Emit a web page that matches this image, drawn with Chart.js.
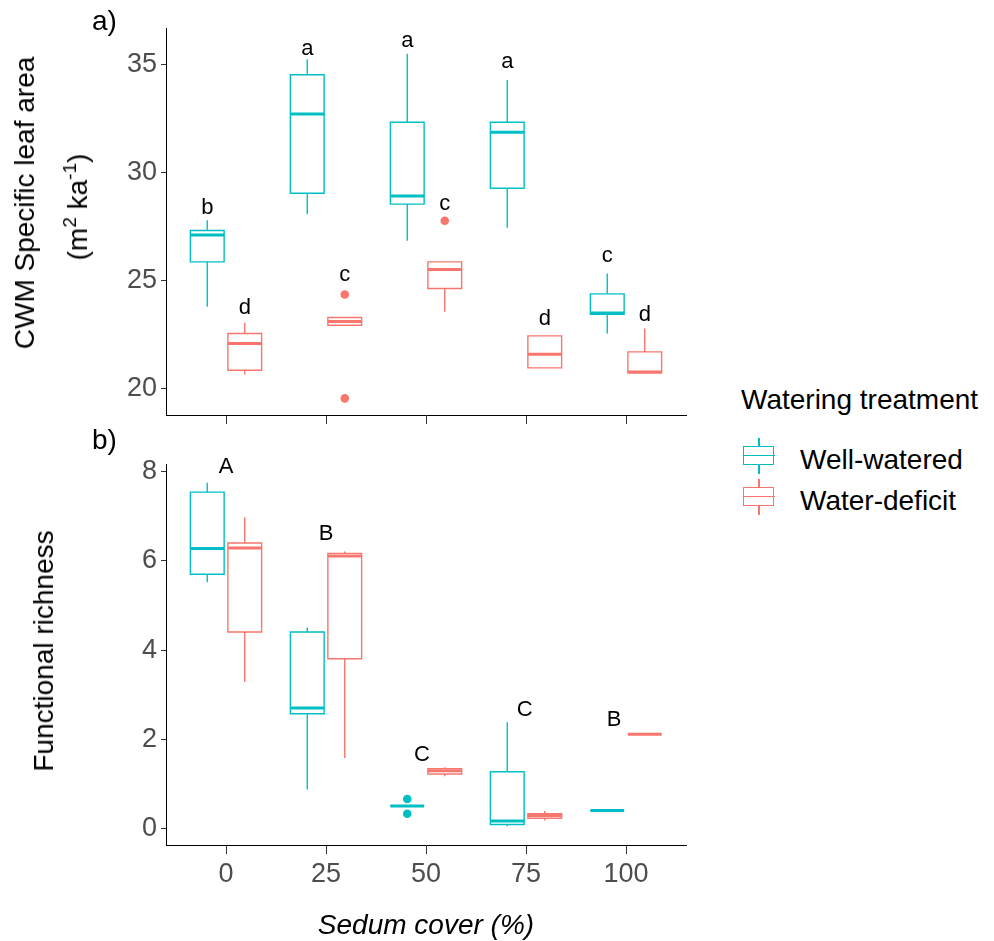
<!DOCTYPE html>
<html>
<head>
<meta charset="utf-8">
<script src="https://cdn.jsdelivr.net/npm/chart.js@4.4.1/dist/chart.umd.min.js"></script>
<style>
  html, body { margin: 0; padding: 0; background: #fff; }
  body { width: 994px; height: 941px; position: relative; overflow: hidden;
         font-family: "Liberation Sans", Arial, sans-serif; color: #000; }
  canvas { position: absolute; left: 0; }
  #slaChart { top: 0; }
  #fricChart { top: 420px; }
  .txt { position: absolute; font-size: 28px; line-height: 28px; white-space: nowrap; }
  .ytitle { position: absolute; font-size: 28px; line-height: 28px; white-space: nowrap;
            transform: translate(-50%, -50%) rotate(-90deg); }
  .ytitle sup { font-size: 0.68em; line-height: 0; vertical-align: 0.6em; }
  .key { position: absolute; width: 32px; height: 36px; }
  .key .wh { position: absolute; left: 15.3px; top: 0; width: 1.4px; height: 36px; }
  .key .bx { position: absolute; left: 0; top: 8px; width: 29.2px; height: 17.2px; background: #fff;
             border-style: solid; border-width: 1.4px; }
  .key .md { position: absolute; left: 0; top: 17.3px; width: 32px; height: 1.4px; }
</style>
</head>
<body>
<canvas id="slaChart" width="700" height="440"></canvas>
<canvas id="fricChart" width="700" height="521"></canvas>

<div class="txt" style="left:92px; top:7px;">a)</div>
<div class="txt" style="left:92px; top:426px;">b)</div>

<div class="ytitle" style="left:25px; top:203px;">CWM Specific leaf area</div>
<div class="ytitle" style="left:78px; top:207px;">(m<sup>2</sup> ka<sup>-1</sup>)</div>
<div class="ytitle" style="left:44px; top:651px;">Functional richness</div>

<div class="txt" style="left:741px; top:386px;">Watering treatment</div>
<div id="legend"></div>

<script>
// ======== Data ========
const sedumCover = [0, 25, 50, 75, 100];
const xTicks = [0, 25, 50, 75, 100];
const slaTicks = [20, 25, 30, 35];
const fricTicks = [0, 2, 4, 6, 8];
const treatments = ['Well-watered', 'Water-deficit'];
const treatmentColors = ['#00BFC4', '#F8766D'];

// panel a) CWM specific leaf area, box statistics per sedum cover
const wwSlaMin = [23.78, 28.06, 26.84, 27.44, 22.55];
const wwSlaQ1  = [25.86, 29.03, 28.53, 29.26, 23.43];
const wwSlaMed = [27.10, 32.69, 28.90, 31.85, 23.50];
const wwSlaQ3  = [27.31, 34.51, 32.31, 32.31, 24.38];
const wwSlaMax = [27.78, 35.23, 35.48, 34.27, 25.32];
const wwSlaOutX = [];
const wwSlaOutY = [];

const wdSlaMin = [20.65, 22.93, 23.55, 20.96, 20.73];
const wdSlaQ1  = [20.85, 22.93, 24.63, 20.96, 20.73];
const wdSlaMed = [22.08, 23.10, 25.51, 21.59, 20.77];
const wdSlaQ3  = [22.55, 23.29, 25.86, 22.44, 21.70];
const wdSlaMax = [23.04, 23.29, 25.86, 22.44, 22.78];
const wdSlaOutX = [25, 25, 50];
const wdSlaOutY = [24.35, 19.55, 27.76];

const wwSlaLetters = ['b', 'a', 'a', 'a', 'c'];
const wwSlaLetterY = [28.07, 35.43, 35.79, 34.81, 25.83];
const wdSlaLetters = ['d', 'c', 'c', 'd', 'd'];
const wdSlaLetterY = [23.44, 24.98, 28.26, 22.93, 23.13];

// panel b) functional richness
const wwFricMin = [5.52, 0.88, 0.513, 0.06, 0.41];
const wwFricQ1  = [5.70, 2.58, 0.513, 0.10, 0.41];
const wwFricMed = [6.28, 2.71, 0.513, 0.18, 0.41];
const wwFricQ3  = [7.54, 4.41, 0.513, 1.28, 0.41];
const wwFricMax = [7.75, 4.51, 0.513, 2.39, 0.41];
const wwFricOutX = [50, 50];
const wwFricOutY = [0.67, 0.34];

const wdFricMin = [3.29, 1.59, 1.18, 0.19, 2.12];
const wdFricQ1  = [4.41, 3.81, 1.23, 0.24, 2.12];
const wdFricMed = [6.29, 6.11, 1.30, 0.30, 2.12];
const wdFricQ3  = [6.40, 6.17, 1.35, 0.34, 2.12];
const wdFricMax = [6.98, 6.21, 1.38, 0.40, 2.12];
const wdFricOutX = [];
const wdFricOutY = [];

const fricLetters = ['A', 'B', 'C', 'C', 'B'];
const fricLetterX = [0, 25, 49, 74.7, 97];
const fricLetterY = [7.96, 6.46, 1.53, 2.53, 2.30];

// ======== Layout constants ========
const FONT = '"Liberation Sans", Arial, sans-serif';
const DODGE = 4.6875;      // half of the dodge width, in x units
const HALF_BOX = 4.22;     // half box width, in x units
const X_MIN = -15, X_MAX = 115;

// ======== Build box plot datasets ========
function boxDatasets(mins, q1s, meds, q3s, maxs, outX, outY, color, offset) {
  const boxes = [], whiskers = [], medians = [];
  sedumCover.forEach((c, i) => {
    const x = c + offset;
    boxes.push({ x: x, y: q1s[i] }, { x: x + HALF_BOX, y: q1s[i] }, { x: x + HALF_BOX, y: q3s[i] },
               { x: x - HALF_BOX, y: q3s[i] }, { x: x - HALF_BOX, y: q1s[i] }, { x: x, y: q1s[i] },
               { x: null, y: null });
    whiskers.push({ x: x, y: q3s[i] }, { x: x, y: maxs[i] }, { x: null, y: null },
                  { x: x, y: q1s[i] }, { x: x, y: mins[i] }, { x: null, y: null });
    medians.push({ x: x - HALF_BOX, y: meds[i] }, { x: x + HALF_BOX, y: meds[i] }, { x: null, y: null });
  });
  const line = { showLine: true, pointRadius: 0, fill: false, spanGaps: false, borderColor: color,
                 borderCapStyle: 'butt', borderJoinStyle: 'miter' };
  return [
    Object.assign({ data: whiskers, borderWidth: 1.4, order: 3 }, line),
    Object.assign({ data: boxes, borderWidth: 1.4, order: 2 }, line),
    Object.assign({ data: medians, borderWidth: 3, order: 1 }, line),
    { data: outX.map((v, i) => ({ x: v + offset, y: outY[i] })), showLine: false, pointRadius: 4.3,
      pointBackgroundColor: color, pointBorderWidth: 0, order: 0 }
  ];
}

// ======== Significance letters ========
const letterPlugin = {
  id: 'letters',
  afterDatasetsDraw(chart, args, opts) {
    const { ctx, scales: { x, y } } = chart;
    ctx.save();
    ctx.font = '22px ' + FONT;
    ctx.fillStyle = '#000';
    ctx.textAlign = 'center';
    ctx.textBaseline = 'alphabetic';
    opts.items.forEach(it => ctx.fillText(it.text, x.getPixelForValue(it.x), y.getPixelForValue(it.y)));
    ctx.restore();
  }
};

function axisStyle(tickLen) {
  return {
    grid: { display: true, drawOnChartArea: false, drawTicks: true, tickLength: tickLen,
            color: '#333333', lineWidth: 1 },
    border: { display: true, color: '#000000', width: 1 }
  };
}

const tickFont = { family: FONT, size: 27 };

// ======== Panel a) ========
new Chart(document.getElementById('slaChart'), {
  type: 'scatter',
  data: {
    datasets: [
      ...boxDatasets(wwSlaMin, wwSlaQ1, wwSlaMed, wwSlaQ3, wwSlaMax, wwSlaOutX, wwSlaOutY, treatmentColors[0], -DODGE),
      ...boxDatasets(wdSlaMin, wdSlaQ1, wdSlaMed, wdSlaQ3, wdSlaMax, wdSlaOutX, wdSlaOutY, treatmentColors[1], DODGE)
    ]
  },
  plugins: [letterPlugin],
  options: {
    responsive: false, animation: false, devicePixelRatio: 1,
    layout: { padding: { top: 28, right: 14, bottom: 0, left: 0 } },
    plugins: {
      legend: { display: false }, tooltip: { enabled: false },
      letters: {
        items: [
          ...sedumCover.map((c, i) => ({ x: c - DODGE, y: wwSlaLetterY[i], text: wwSlaLetters[i] })),
          ...sedumCover.map((c, i) => ({ x: c + DODGE, y: wdSlaLetterY[i], text: wdSlaLetters[i] }))
        ]
      }
    },
    scales: {
      x: Object.assign({
        type: 'linear', min: X_MIN, max: X_MAX,
        afterBuildTicks: s => { s.ticks = xTicks.map(v => ({ value: v })); },
        afterFit: s => { s.height = 25; },
        ticks: { display: false }
      }, axisStyle(9)),
      y: Object.assign({
        type: 'linear', min: 18.78, max: 36.67,
        afterBuildTicks: s => { s.ticks = slaTicks.map(v => ({ value: v })); },
        afterFit: s => { s.width = 166; },
        ticks: { font: tickFont, color: '#4D4D4D', padding: 4 }
      }, axisStyle(5))
    }
  }
});

// ======== Panel b) ========
new Chart(document.getElementById('fricChart'), {
  type: 'scatter',
  data: {
    datasets: [
      ...boxDatasets(wwFricMin, wwFricQ1, wwFricMed, wwFricQ3, wwFricMax, wwFricOutX, wwFricOutY, treatmentColors[0], -DODGE),
      ...boxDatasets(wdFricMin, wdFricQ1, wdFricMed, wdFricQ3, wdFricMax, wdFricOutX, wdFricOutY, treatmentColors[1], DODGE)
    ]
  },
  plugins: [letterPlugin],
  options: {
    responsive: false, animation: false, devicePixelRatio: 1,
    layout: { padding: { top: 44, right: 14, bottom: 0, left: 0 } },
    plugins: {
      legend: { display: false }, tooltip: { enabled: false },
      letters: {
        items: fricLetters.map((t, i) => ({ x: fricLetterX[i], y: fricLetterY[i], text: t }))
      }
    },
    scales: {
      x: Object.assign({
        type: 'linear', min: X_MIN, max: X_MAX,
        afterBuildTicks: s => { s.ticks = xTicks.map(v => ({ value: v })); },
        afterFit: s => { s.height = 96; },
        ticks: { font: tickFont, color: '#4D4D4D', padding: 4, maxRotation: 0, callback: v => String(v) },
        title: { display: true, text: 'Sedum cover (%)', color: '#000',
                 font: { family: FONT, size: 28, style: 'italic', lineHeight: 1 },
                 padding: { top: 0, bottom: 1 } }
      }, axisStyle(9)),
      y: Object.assign({
        type: 'linear', min: -0.36, max: 8.17,
        afterBuildTicks: s => { s.ticks = fricTicks.map(v => ({ value: v })); },
        afterFit: s => { s.width = 166; },
        ticks: { font: tickFont, color: '#4D4D4D', padding: 4 }
      }, axisStyle(5))
    }
  }
});

// ======== Legend ========
const keyCenters = [455.5, 496.5];
const legend = document.getElementById('legend');
treatments.forEach((name, i) => {
  const col = treatmentColors[i];
  const key = document.createElement('div');
  key.className = 'key';
  key.style.left = '743px';
  key.style.top = (keyCenters[i] - 18) + 'px';
  key.innerHTML = `<div class="wh" style="background:${col}"></div>` +
                  `<div class="bx" style="border-color:${col}"></div>` +
                  `<div class="md" style="background:${col}"></div>`;
  legend.appendChild(key);
  const label = document.createElement('div');
  label.className = 'txt';
  label.style.left = '800px';
  label.style.top = (keyCenters[i] - 9.5) + 'px';
  label.textContent = name;
  legend.appendChild(label);
});
</script>
</body>
</html>
